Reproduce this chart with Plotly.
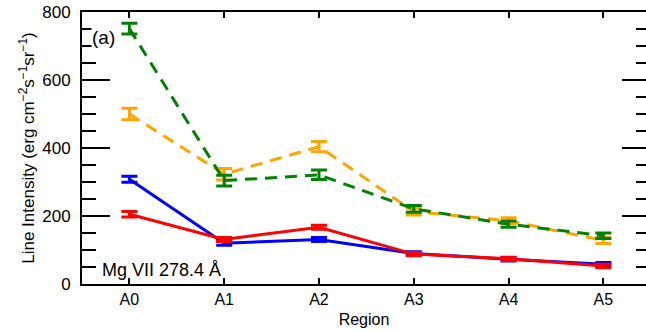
import plotly.graph_objects as go

# Regions along the loop and line intensities of Mg VII 278.4 Å
regions = ["A0", "A1", "A2", "A3", "A4", "A5"]

green_vals = [751, 304, 321, 221, 176, 142]
green_err = [16, 16, 14, 10, 9, 8]

orange_vals = [500, 323, 404, 213, 186, 128]
orange_err = [17, 17, 15, 10, 9, 9]

blue_vals = [308, 120, 131, 90, 73, 58]
blue_err = [9, 6, 6, 5, 5, 5]

red_vals = [205, 131, 167, 88, 74, 53]
red_err = [8, 6, 6, 5, 5, 5]

GREEN = "#008000"
ORANGE = "#FFA500"
BLUE = "#0000FF"
RED = "#FF0000"

FONT = "Liberation Sans, Arial, Helvetica, sans-serif"


def series(vals, err, color, dash):
    return go.Scatter(
        x=regions,
        y=vals,
        mode="lines",
        line=dict(color=color, width=3, dash=dash),
        error_y=dict(type="data", array=err, visible=True,
                     color=color, thickness=3, width=8),
        showlegend=False,
        hoverinfo="x+y",
    )


fig = go.Figure()
fig.add_trace(series(orange_vals, orange_err, ORANGE, "12px,8px"))
fig.add_trace(series(green_vals, green_err, GREEN, "12px,8px"))
fig.add_trace(series(blue_vals, blue_err, BLUE, "solid"))
fig.add_trace(series(red_vals, red_err, RED, "solid"))

# empty trace so the right-hand tick axis is drawn
fig.add_trace(go.Scatter(x=[], y=[], yaxis="y2", showlegend=False))

fig.update_layout(
    width=646,
    height=333,
    margin=dict(l=82, r=0, t=12, b=49),
    paper_bgcolor="white",
    plot_bgcolor="white",
    font=dict(family=FONT, size=16, color="black"),
    xaxis=dict(
        type="category",
        range=[-0.5, 5.45],
        showline=True, linecolor="black", linewidth=2,
        mirror="ticks",
        ticks="inside", ticklen=6, tickwidth=2, tickcolor="black",
        showgrid=False, zeroline=False,
        tickfont=dict(size=16),
        title=dict(text="Region", font=dict(size=16), standoff=7),
    ),
    yaxis=dict(
        range=[0, 800],
        dtick=200,
        showline=True, linecolor="black", linewidth=2,
        mirror=False,
        ticks="inside", ticklen=28, tickwidth=2, tickcolor="black",
        minor=dict(dtick=50, ticks="inside", ticklen=14,
                   tickwidth=2, tickcolor="black", showgrid=False),
        showgrid=False, zeroline=False,
        tickfont=dict(size=17),
        ticklabelstandoff=6,
        title=dict(
            text="Line Intensity (erg cm<sup>−2</sup>s<sup>−1</sup>sr<sup>−1</sup>)",
            font=dict(size=17), standoff=3),
    ),
    yaxis2=dict(
        overlaying="y", side="right", anchor="x",
        range=[0, 800], dtick=200,
        showline=False, showgrid=False, zeroline=False,
        showticklabels=False,
        ticks="inside", ticklen=24, tickwidth=2, tickcolor="black",
        minor=dict(dtick=50, ticks="inside", ticklen=10,
                   tickwidth=2, tickcolor="black", showgrid=False),
    ),
    annotations=[
        dict(text="(a)", xref="paper", yref="paper", x=0.016, y=0.908,
             xanchor="left", yanchor="middle", showarrow=False,
             font=dict(size=19), bgcolor="white", borderpad=0),
        dict(text="Mg VII 278.4 Å", xref="paper", yref="paper", x=0.032, y=0.052,
             xanchor="left", yanchor="middle", showarrow=False,
             font=dict(size=18)),
    ],
)

fig.write_html("out.html")
